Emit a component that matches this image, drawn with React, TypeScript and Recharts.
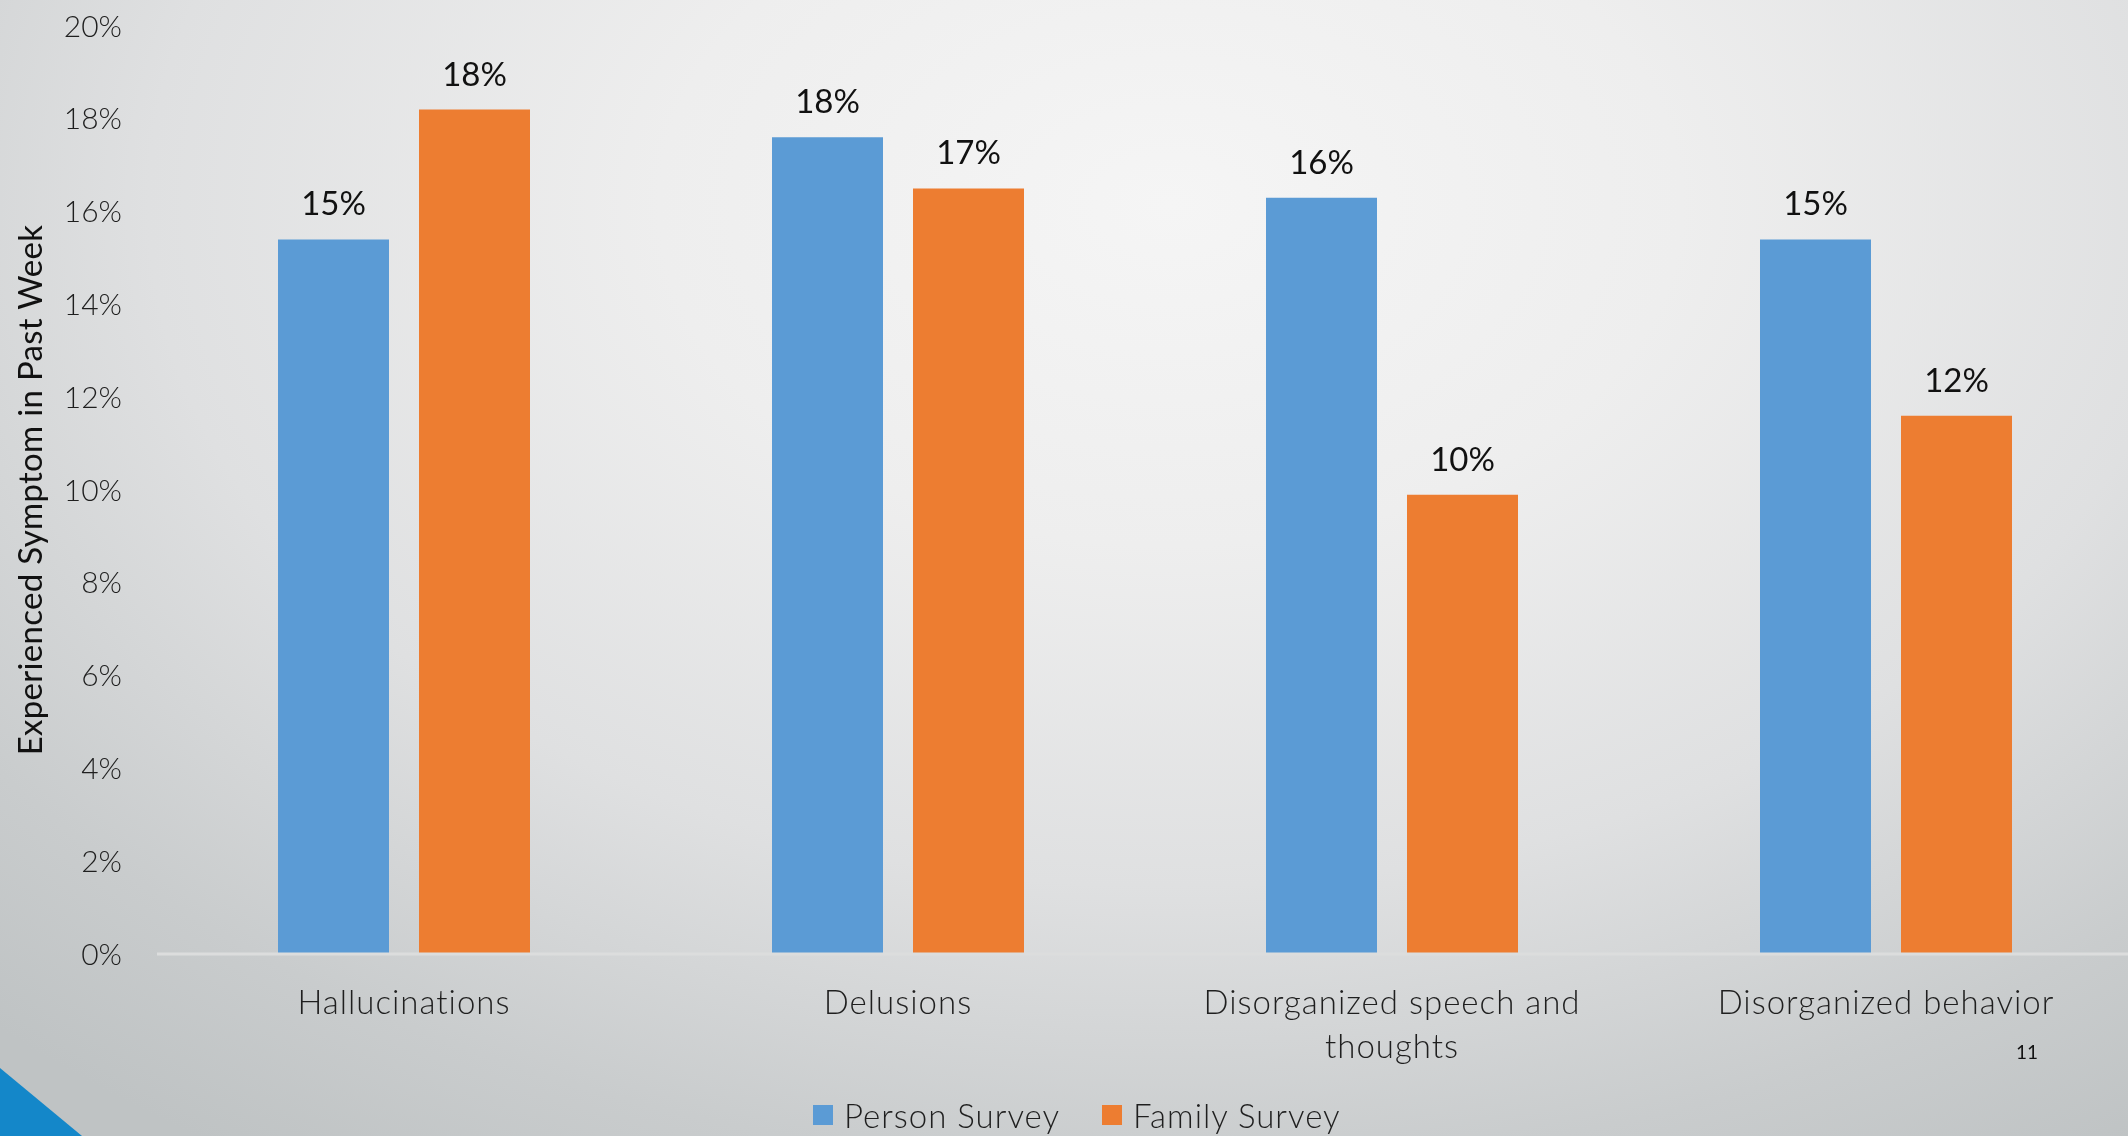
import { Bar, BarChart, LabelList, XAxis, YAxis } from "recharts";

const categories = [
  "Hallucinations",
  "Delusions",
  "Disorganized speech and thoughts",
  "Disorganized behavior",
];
const personSurvey = [15.4, 17.6, 16.3, 15.4];
const familySurvey = [18.2, 16.5, 9.9, 11.6];
const yTicks = [0, 2, 4, 6, 8, 10, 12, 14, 16, 18, 20];
const seriesNames = ["Person Survey", "Family Survey"];
const seriesColors = ["#5B9BD5", "#ED7D31"];

const FONT = "Lato, 'Open Sans', sans-serif";
const MAX_LINE_CHARS = 24;

const data = categories.map((name, i) => ({
  name,
  person: personSurvey[i],
  family: familySurvey[i],
}));

const pct = (v: unknown) => (typeof v === "number" ? `${Math.round(v)}%` : String(v));

// greedy word wrap, same break the slide uses ("...speech and / thoughts")
function wrapLabel(s: string): string[] {
  const lines: string[] = [];
  let cur = "";
  for (const w of s.split(" ")) {
    const next = cur ? `${cur} ${w}` : w;
    if (next.length > MAX_LINE_CHARS && cur) {
      lines.push(cur);
      cur = w;
    } else {
      cur = next;
    }
  }
  if (cur) lines.push(cur);
  return lines;
}

function CategoryTick(props: any) {
  const { x, y, payload } = props;
  const lines = wrapLabel(String(payload.value));
  return (
    <text
      x={x}
      y={y}
      textAnchor="middle"
      fontFamily={FONT}
      fontWeight={300}
      fontSize={33}
      letterSpacing={1}
      fill="#1f1f1f"
    >
      {lines.map((l, i) => (
        <tspan key={i} x={x} dy={i === 0 ? "0.71em" : 44}>
          {l}
        </tspan>
      ))}
    </text>
  );
}

function AxisTitle(props: any) {
  const vb = props.viewBox || { x: 0, y: 0, height: 0 };
  const cx = vb.x + 29;
  const cy = vb.y + vb.height / 2;
  return (
    <text
      x={cx}
      y={cy}
      transform={`rotate(-90 ${cx} ${cy})`}
      textAnchor="middle"
      dominantBaseline="central"
      fontFamily={FONT}
      fontSize={33}
      letterSpacing={0.3}
      fill="#111"
    >
      Experienced Symptom in Past Week
    </text>
  );
}

export default function App() {
  return (
    <div
      style={{
        position: "fixed",
        left: 0,
        top: 0,
        width: 2128,
        height: 1136,
        overflow: "hidden",
        background:
          "radial-gradient(ellipse 80% 100% at 55% 18%, #f5f5f5 0%, #eeeeee 30%, #dfe0e1 60%, #c9cccd 85%, #bfc3c4 100%)",
      }}
    >
      <BarChart
        width={2133}
        height={1136}
        data={data}
        margin={{ top: 26, right: 0, left: 0, bottom: 0 }}
        barSize={111}
        barGap={30}
        style={{ position: "absolute", left: 0, top: 0 }}
      >
        <XAxis
          dataKey="name"
          height={182}
          tickLine={false}
          tickSize={0}
          tickMargin={37}
          axisLine={{ stroke: "#dcdddd", strokeWidth: 3 }}
          tick={<CategoryTick />}
          interval={0}
        />
        <YAxis
          width={157}
          domain={[0, 20]}
          ticks={yTicks}
          tickFormatter={(v) => `${v}%`}
          axisLine={false}
          tickLine={false}
          tickSize={0}
          tickMargin={35}
          tick={{ fontFamily: FONT, fontWeight: 300, fontSize: 30, fill: "#1f1f1f" }}
          label={{ content: (p: any) => <AxisTitle {...p} /> }}
        />
        <Bar dataKey="person" name={seriesNames[0]} fill={seriesColors[0]} isAnimationActive={false}>
          <LabelList
            dataKey="person"
            position="top"
            offset={24}
            formatter={pct}
            style={{ fontFamily: FONT, fontSize: 33, fill: "#111" }}
          />
        </Bar>
        <Bar dataKey="family" name={seriesNames[1]} fill={seriesColors[1]} isAnimationActive={false}>
          <LabelList
            dataKey="family"
            position="top"
            offset={24}
            formatter={pct}
            style={{ fontFamily: FONT, fontSize: 33, fill: "#111" }}
          />
        </Bar>
      </BarChart>

      {/* legend, centred under the plot like the slide */}
      <div
        style={{
          position: "absolute",
          left: 813,
          top: 1095,
          display: "flex",
          alignItems: "center",
          gap: 42,
          fontFamily: FONT,
          fontWeight: 300,
          fontSize: 33,
          letterSpacing: 1,
          color: "#1f1f1f",
          whiteSpace: "nowrap",
        }}
      >
        {seriesNames.map((n, i) => (
          <div key={n} style={{ display: "flex", alignItems: "center", gap: 11 }}>
            <span style={{ width: 20, height: 20, background: seriesColors[i], display: "inline-block" }} />
            <span>{n}</span>
          </div>
        ))}
      </div>

      {/* slide page number + corner accent */}
      <div
        style={{
          position: "absolute",
          left: 2016,
          top: 1040,
          fontFamily: FONT,
          fontSize: 19,
          color: "#111",
        }}
      >
        11
      </div>
      <div
        style={{
          position: "absolute",
          left: 0,
          top: 1068,
          width: 82,
          height: 68,
          background: "#1487C9",
          clipPath: "polygon(0 0, 100% 100%, 0 100%)",
        }}
      />
    </div>
  );
}
